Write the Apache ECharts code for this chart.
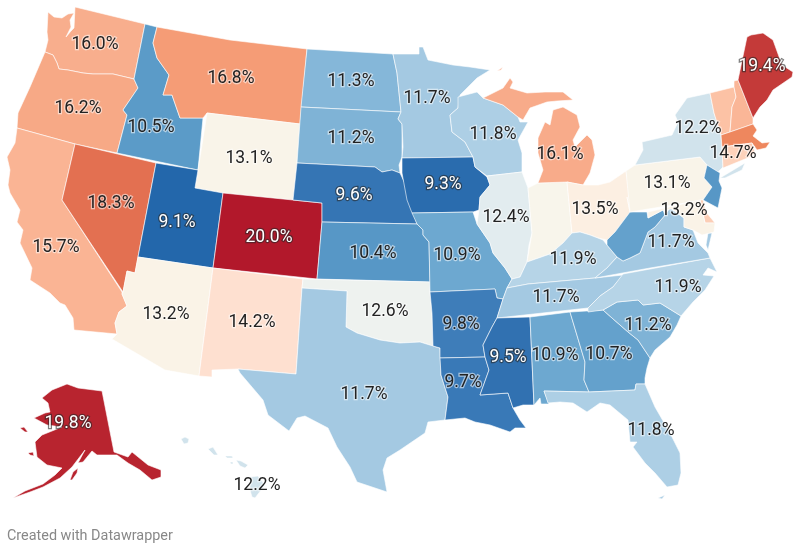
<!DOCTYPE html>
<html>
<head>
<meta charset="utf-8">
<style>html,body{margin:0;padding:0;background:#fff}#chart{width:800px;height:550px}</style>
<script src="https://cdn.jsdelivr.net/npm/echarts@6/dist/echarts.min.js"></script>
</head>
<body>
<div id="chart"></div>
<script>
var stateNames = ['WA','OR','CA','NV','ID','MT','WY','UT','CO','AZ','NM','ND','SD','NE','KS','OK','TX','MN','IA','MO','AR','LA','WI','IL','IN','MI','OH','KY','TN','MS','AL','GA','FL','SC','NC','VA','WV','PA','NY','VT','NH','ME','MA','RI','CT','NJ','DE','MD','AK','HI'];
var rateValues = [16.0,16.2,15.7,18.3,10.5,16.8,13.1,9.1,20.0,13.2,14.2,11.3,11.2,9.6,10.4,12.6,11.7,11.7,9.3,10.9,9.8,9.7,11.8,12.4,13.0,16.1,13.5,11.9,11.7,9.5,10.9,10.7,11.8,11.2,11.9,11.7,10.7,13.1,12.2,15.2,15.6,19.4,17.6,15.0,14.7,10.4,14.8,13.2,19.8,12.2];
var unlabeled = ['IN','VT','NH','MA','RI','NJ','DE','WV'];
var lightText = ['UT','CO','NE','IA','MS','ME','AK'];
// colour stops every half point from 9 to 20
var scaleColors = ['#1f64aa','#3171b1','#4685bf','#5b9bc8','#72abd2','#92bfdd','#bfd9ea','#ebf1f0','#f8f5eb','#fcefe2','#fee6d8','#fdd8c4','#fcc8ad','#fbb899','#f8ae8d','#f6a17c','#f59872','#f08a60','#e87a58','#e06a4c','#d04c44','#c13636','#b2182b'];

// state outlines, traced in picture pixels
var outlines = {
  WA: [[[48,12],[54,17],[62,18],[68,14],[74,13],[70,20],[71,27],[66,37],[71,31],[74,28],[75,7],[145,24],[134,79],[113,74],[93,74],[83,73],[68,70],[59,69],[57,63],[53,55],[45,52],[48,40],[47,32]]],
  OR: [[[45,52],[53,55],[57,63],[59,69],[68,70],[83,73],[93,74],[113,74],[134,79],[138,88],[123,110],[127,115],[117,153],[75,144],[17,128],[18,113],[30,87]]],
  CA: [[[17,128],[75,144],[62,200],[122,292],[122,294],[127,306],[119,312],[115,323],[117,334],[74,330],[73,318],[65,305],[60,303],[50,293],[30,280],[32,268],[20,243],[23,230],[17,222],[20,210],[10,193],[8,185],[10,170],[7,157],[15,143]]],
  NV: [[[75,144],[156,163],[138,257],[135,273],[127,271],[123,292],[62,200]]],
  ID: [[[145,24],[157,27],[153,43],[157,58],[169,75],[163,95],[172,95],[180,118],[203,118],[198,170],[117,153],[127,115],[123,110],[138,88],[134,79]]],
  MT: [[[157,27],[230,40],[307,49],[300,124],[207,113],[203,118],[180,118],[172,95],[163,95],[169,75],[157,58],[153,43]]],
  WY: [[[207,113],[300,124],[297,163],[293,200],[223,193],[195,188],[198,170]]],
  UT: [[[156,163],[198,170],[195,188],[223,193],[213,268],[138,257]]],
  CO: [[[223,193],[293,200],[322,203],[322,222],[317,279],[213,268]]],
  AZ: [[[138,257],[213,268],[199,376],[165,370],[112,339],[117,334],[115,323],[119,312],[127,306],[122,294],[123,292],[127,271],[135,273]]],
  NM: [[[213,268],[303,279],[302,288],[296,374],[238,369],[212,370],[212,377],[199,376]]],
  ND: [[[307,49],[393,54],[397,73],[401,112],[301,107]]],
  SD: [[[301,107],[401,112],[398,119],[402,124],[402,157],[399,165],[400,173],[392,170],[382,172],[375,167],[297,163]]],
  NE: [[[297,163],[375,167],[382,172],[392,170],[400,173],[408,190],[412,208],[417,224],[322,222],[322,203],[293,200]]],
  KS: [[[322,222],[417,224],[423,230],[423,235],[429,242],[430,282],[317,279]]],
  OK: [[[303,279],[430,282],[430,292],[432,313],[433,346],[420,342],[400,343],[380,340],[357,333],[346,327],[347,291],[302,288]]],
  TX: [[[302,288],[347,291],[346,327],[357,333],[380,340],[400,343],[420,342],[433,346],[440,348],[441,375],[448,397],[445,420],[428,422],[425,433],[400,450],[387,458],[383,470],[387,492],[357,482],[350,467],[337,447],[328,428],[305,416],[297,418],[289,431],[268,415],[263,400],[240,373],[238,369],[296,374]]],
  MN: [[[393,54],[419,54],[419,47],[423,47],[428,60],[453,65],[470,67],[490,70],[477,78],[460,95],[458,108],[450,115],[452,132],[465,142],[473,157],[402,158],[403,147],[402,124],[398,119],[401,112],[397,73]]],
  IA: [[[402,158],[473,157],[475,167],[487,177],[490,185],[480,197],[479,210],[473,212],[412,213],[407,200],[402,173]]],
  MO: [[[412,213],[473,212],[477,224],[490,243],[493,253],[505,268],[512,279],[507,288],[503,299],[497,298],[495,289],[430,292],[429,242],[423,235],[423,230],[417,224]]],
  AR: [[[430,292],[495,289],[497,298],[503,299],[497,318],[492,327],[483,345],[485,357],[440,358],[440,348],[433,346],[432,313]]],
  LA: [[[440,358],[485,357],[489,370],[480,395],[508,393],[513,408],[520,420],[526,428],[515,428],[510,432],[490,425],[475,422],[465,418],[445,420],[448,397],[441,375]]],
  WI: [[[458,97],[477,92],[483,98],[503,105],[518,117],[520,122],[528,122],[518,140],[522,153],[522,172],[487,176],[475,167],[473,157],[465,142],[452,132],[450,115],[458,108]]],
  IL: [[[487,176],[522,172],[528,188],[532,233],[529,245],[527,262],[520,277],[512,279],[505,268],[493,253],[490,243],[477,224],[479,210],[480,197],[490,185]]],
  IN: [[[528,188],[538,183],[567,182],[572,233],[563,243],[550,254],[527,262],[532,233]]],
  MI: [[[538,183],[567,182],[583,185],[590,173],[595,155],[592,140],[587,135],[575,147],[573,140],[580,127],[577,115],[563,107],[553,110],[550,125],[545,122],[538,138],[538,153],[543,170]],
       [[483,98],[503,88],[510,78],[513,82],[510,88],[527,93],[545,92],[563,92],[573,100],[557,101],[547,102],[530,108],[523,120],[518,117],[503,105]],
       [[497,71],[503,67],[501,70]]],
  OH: [[[567,182],[583,185],[598,185],[610,182],[626,171],[630,198],[630,212],[615,232],[607,240],[598,238],[590,235],[580,232],[572,233]]],
  KY: [[[527,262],[550,254],[563,243],[572,233],[580,232],[590,235],[603,240],[607,245],[617,257],[607,268],[595,278],[528,284],[507,288],[512,279],[520,277]]],
  TN: [[[507,288],[528,284],[595,278],[623,275],[613,287],[600,296],[588,308],[497,318],[503,299]]],
  MS: [[[497,318],[530,317],[534,405],[523,405],[513,408],[508,393],[480,395],[489,370],[485,357],[483,345],[492,327]]],
  AL: [[[530,317],[570,312],[585,362],[584,380],[589,392],[544,391],[549,404],[541,404],[540,398],[534,405]]],
  GA: [[[570,312],[603,310],[612,318],[628,332],[638,340],[650,358],[647,368],[645,378],[645,384],[636,384],[635,390],[589,392],[584,380],[585,362]]],
  FL: [[[544,391],[589,392],[635,390],[636,384],[645,384],[655,407],[670,433],[680,453],[681,473],[678,485],[667,487],[655,473],[645,463],[633,447],[637,442],[630,442],[628,420],[610,405],[600,403],[587,412],[573,403],[560,402],[548,403]],
       [[658,498],[665,495],[662,499]]],
  SC: [[[603,310],[617,302],[638,300],[643,305],[660,303],[681,316],[677,325],[670,337],[655,350],[650,358],[638,340],[628,332],[612,318]]],
  NC: [[[623,274],[710,258],[717,272],[708,268],[703,275],[714,276],[705,290],[693,302],[681,316],[660,303],[643,305],[638,300],[617,302],[603,310],[588,312],[588,308],[600,296],[613,287]]],
  VA: [[[670,208],[684,218],[684,227],[693,230],[698,243],[708,253],[710,258],[650,268],[595,278],[607,268],[617,257],[623,261],[630,258],[640,253],[648,232],[655,227],[665,215]],
       [[708,233],[712,233],[708,250],[706,245]]],
  WV: [[[627,197],[630,212],[647,212],[648,218],[663,210],[665,215],[655,227],[648,232],[640,253],[630,258],[623,261],[617,257],[607,245],[607,240],[615,232],[630,212]]],
  PA: [[[626,171],[635,165],[700,157],[707,165],[704,178],[712,187],[703,200],[630,212]]],
  NY: [[[635,165],[643,150],[642,142],[672,135],[678,122],[675,115],[687,98],[710,93],[714,113],[721,135],[722,147],[723,167],[718,172],[707,165],[700,157]],
       [[720,178],[745,163],[742,170],[725,178]]],
  VT: [[[710,93],[734,87],[736,97],[732,107],[730,132],[721,135],[714,113]]],
  NH: [[[734,81],[738,80],[753,118],[753,124],[730,132],[732,107],[736,97],[734,87]]],
  ME: [[[738,80],[747,37],[751,35],[763,33],[773,40],[782,65],[793,72],[792,77],[773,90],[767,100],[760,107],[753,118]]],
  MA: [[[721,135],[730,132],[753,124],[757,130],[753,136],[762,143],[770,142],[766,148],[757,150],[752,143],[722,147]]],
  RI: [[[745,144],[752,143],[755,153],[750,157]]],
  CT: [[[722,147],[745,144],[750,157],[723,168]]],
  NJ: [[[707,165],[720,173],[719,181],[722,188],[718,208],[703,200],[712,187],[704,178]]],
  DE: [[[700,200],[703,200],[706,212],[715,223],[705,223]]],
  MD: [[[648,212],[700,200],[705,223],[715,223],[714,232],[702,235],[693,230],[684,227],[684,218],[672,209],[663,210],[648,218]]],
  AK: [[[42,398],[52,390],[67,384],[78,388],[102,391],[114,452],[128,457],[132,452],[148,465],[161,470],[161,477],[152,480],[140,470],[128,463],[117,455],[97,455],[92,451],[83,462],[78,463],[85,450],[72,467],[60,478],[43,487],[30,492],[13,498],[25,491],[43,484],[55,475],[62,468],[47,465],[37,457],[35,442],[42,435],[62,427],[47,425],[34,418],[45,413],[50,412],[48,403]],
       [[20,428],[24,427],[28,432],[25,432]],
       [[28,453],[33,452],[34,456],[30,455]],
       [[70,480],[73,472],[78,468],[77,473],[72,480]]],
  HI: [[[181,439],[185,437],[189,439],[188,443],[184,444]],
       [[208,449],[213,447],[218,455],[214,455]],
       [[225,456],[232,456],[233,458],[227,458]],
       [[230,462],[233,462],[233,464],[231,464]],
       [[236,460],[241,461],[248,465],[245,468],[240,466]],
       [[250,477],[258,476],[265,485],[255,498],[252,497],[250,490]]]
};

var labelPoints = {
  WA:[95,43],OR:[78,107],CA:[56,246],NV:[111,202],ID:[151,126],MT:[231,77],WY:[249,157],UT:[177,221],CO:[269,236],AZ:[166,313],NM:[252,321],
  ND:[351,80],SD:[351,137],NE:[354,194],KS:[373,252],OK:[385,310],TX:[364,393],MN:[427,97],IA:[443,183],MO:[457,254],AR:[461,323],LA:[463,381],
  WI:[493,133],IL:[506,216],IN:[550,210],MI:[560,153],OH:[595,208],KY:[573,258],TN:[556,296],MS:[508,356],AL:[555,354],GA:[609,353],FL:[651,429],
  SC:[648,324],NC:[678,286],VA:[671,241],WV:[630,235],PA:[667,182],NY:[698,127],VT:[722,115],NH:[742,110],ME:[762,65],MA:[740,135],RI:[750,150],
  CT:[733,152],NJ:[712,190],DE:[707,215],MD:[684,209],AK:[68,422],HI:[257,484]
};

function flip(ring) {
  return ring.map(function (p) { return [p[0], 550 - p[1]]; });
}

var usa = {
  type: 'FeatureCollection',
  features: stateNames.map(function (name) {
    return {
      type: 'Feature',
      properties: { name: name, cp: [labelPoints[name][0], 550 - labelPoints[name][1]] },
      geometry: {
        type: 'MultiPolygon',
        coordinates: outlines[name].map(function (ring) { return [flip(ring)]; })
      }
    };
  })
};
echarts.registerMap('usa', usa);

var chart = echarts.init(document.getElementById('chart'));

var seriesData = stateNames.map(function (name, i) {
  var item = { name: name, value: rateValues[i] };
  if (unlabeled.indexOf(name) >= 0) {
    item.label = { show: false };
  } else if (lightText.indexOf(name) >= 0) {
    item.label = { color: '#fff', textBorderColor: 'rgba(40,40,40,0.6)' };
  }
  return item;
});

chart.setOption({
  animation: false,
  backgroundColor: '#fff',
  title: {
    text: 'Created with Datawrapper',
    left: 2,
    top: 524,
    textStyle: { color: '#888', fontFamily: 'Roboto', fontSize: 14.4, fontWeight: 'normal' }
  },
  visualMap: {
    show: false,
    type: 'continuous',
    min: 9,
    max: 20,
    inRange: { color: scaleColors }
  },
  series: [
    {
      type: 'map',
      map: 'usa',
      silent: true,
      roam: false,
      left: 0,
      top: 0,
      width: 800,
      height: 550,
      aspectScale: 1,
      boundingCoords: [[0, 550], [800, 0]],
      itemStyle: { borderColor: '#fff', borderWidth: 0.6 },
      label: {
        show: true,
        fontFamily: 'Roboto',
        fontSize: 17.5,
        color: '#222',
        offset: [0, 2],
        textBorderColor: 'rgba(255,255,255,0.55)',
        textBorderWidth: 2.5,
        formatter: function (p) { return p.value.toFixed(1) + '%'; }
      },
      data: seriesData
    }
  ]
});
</script>
</body>
</html>
